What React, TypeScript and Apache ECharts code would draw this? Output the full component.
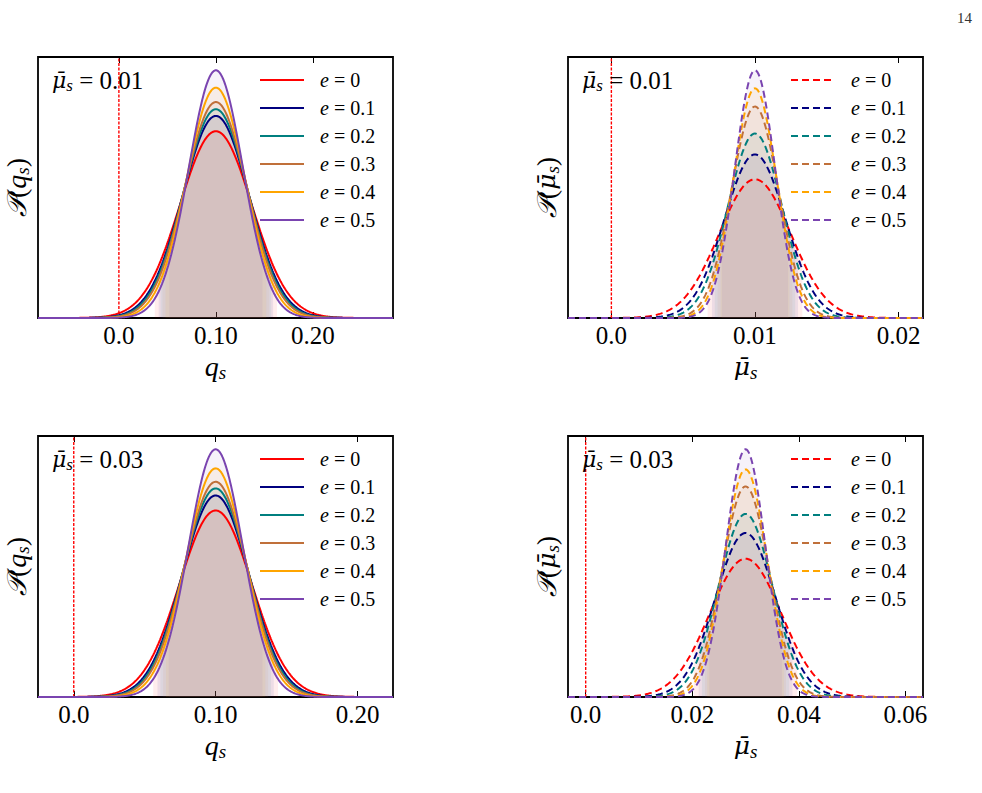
import { useEffect, useRef } from "react";
import * as echarts from "echarts";

const SERIF = "Liberation Serif";
const MATHSERIF = "DejaVu Serif";

// Eccentricity levels shared by every panel
const eccentricities = ["0", "0.1", "0.2", "0.3", "0.4", "0.5"];
const lineColors = ["#ff0000", "#00007f", "#007f7f", "#c0703a", "#ffa500", "#7a44b0"];

// Posterior of q_s for injected mu_s = 0.01
const qsLowMean = 0.1;
const qsLowSigma = [0.037, 0.0342, 0.0331, 0.032, 0.03, 0.0279];
const qsLowHalfWidth = [0.063, 0.059, 0.057, 0.055, 0.052, 0.048];
const qsLowRange = [-0.0834, 0.2826];
const qsLowTicks = [0, 0.1, 0.2];
const qsLowTickLabels = ["0.0", "0.10", "0.20"];

// Posterior of mu_s for injected mu_s = 0.01
const muLowMean = 0.01;
const muLowSigma = [0.0025, 0.00212, 0.00188, 0.00164, 0.00151, 0.0014];
const muLowHalfWidth = [0.0033, 0.003, 0.0028, 0.0026, 0.0024, 0.0023];
const muLowRange = [-0.00302, 0.0217];
const muLowTicks = [0, 0.01, 0.02];
const muLowTickLabels = ["0.0", "0.01", "0.02"];

// Posterior of q_s for injected mu_s = 0.03
const qsHighMean = 0.1;
const qsHighSigma = [0.0255, 0.0236, 0.0228, 0.0221, 0.0208, 0.0192];
const qsHighHalfWidth = [0.044, 0.041, 0.039, 0.037, 0.035, 0.033];
const qsHighRange = [-0.0252, 0.225];
const qsHighTicks = [0, 0.1, 0.2];
const qsHighTickLabels = ["0.0", "0.10", "0.20"];

// Posterior of mu_s for injected mu_s = 0.03
const muHighMean = 0.03;
const muHighSigma = [0.0067, 0.00565, 0.00506, 0.0044, 0.00407, 0.00374];
const muHighHalfWidth = [0.0097, 0.0088, 0.0082, 0.0076, 0.0072, 0.0068];
const muHighRange = [-0.00332, 0.0633];
const muHighTicks = [0, 0.02, 0.04, 0.06];
const muHighTickLabels = ["0.0", "0.02", "0.04", "0.06"];

const injectedMu = ["0.01", "0.01", "0.03", "0.03"];
// the zero line drawn in every panel
const referenceX = 0;

const MU_BAR = "\u03bc\u0304";

function gaussian(x: number, m: number, s: number) {
  return Math.exp(-((x - m) * (x - m)) / (2 * s * s)) / (s * Math.sqrt(2 * Math.PI));
}

function sampleCurve(lo: number, hi: number, m: number, s: number, n = 480) {
  const pts: number[][] = [];
  for (let i = 0; i <= n; i++) {
    const x = lo + ((hi - lo) * i) / n;
    pts.push([x, gaussian(x, m, s)]);
  }
  return pts;
}

type Panel = {
  key: string;
  grid: { left: number; top: number; width: number; height: number };
  range: number[];
  ticks: number[];
  tickLabels: string[];
  mean: number;
  sigma: number[];
  halfWidth: number[];
  dashed: boolean;
  variable: "q" | "mu";
  injected: string;
  legendPos: { left: number; top: number };
};

const panels: Panel[] = [
  {
    key: "a",
    grid: { left: 38, top: 57, width: 355, height: 261 },
    range: qsLowRange, ticks: qsLowTicks, tickLabels: qsLowTickLabels,
    mean: qsLowMean, sigma: qsLowSigma, halfWidth: qsLowHalfWidth,
    dashed: false, variable: "q", injected: injectedMu[0],
    legendPos: { left: 259, top: 70 },
  },
  {
    key: "b",
    grid: { left: 568, top: 57, width: 355, height: 261 },
    range: muLowRange, ticks: muLowTicks, tickLabels: muLowTickLabels,
    mean: muLowMean, sigma: muLowSigma, halfWidth: muLowHalfWidth,
    dashed: true, variable: "mu", injected: injectedMu[1],
    legendPos: { left: 790, top: 70 },
  },
  {
    key: "c",
    grid: { left: 38, top: 436, width: 355, height: 261 },
    range: qsHighRange, ticks: qsHighTicks, tickLabels: qsHighTickLabels,
    mean: qsHighMean, sigma: qsHighSigma, halfWidth: qsHighHalfWidth,
    dashed: false, variable: "q", injected: injectedMu[2],
    legendPos: { left: 259, top: 449 },
  },
  {
    key: "d",
    grid: { left: 568, top: 436, width: 355, height: 261 },
    range: muHighRange, ticks: muHighTicks, tickLabels: muHighTickLabels,
    mean: muHighMean, sigma: muHighSigma, halfWidth: muHighHalfWidth,
    dashed: true, variable: "mu", injected: injectedMu[3],
    legendPos: { left: 790, top: 449 },
  },
];

const nameRich = {
  i: { fontFamily: SERIF, fontStyle: "italic", fontSize: 28, color: "#000" },
  m: { fontFamily: MATHSERIF, fontStyle: "italic", fontSize: 25, color: "#000" },
  r: { fontFamily: SERIF, fontSize: 28, color: "#000" },
  p: { fontFamily: MATHSERIF, fontStyle: "italic", fontSize: 27, color: "#000" },
  sub: { fontFamily: SERIF, fontStyle: "italic", fontSize: 19, color: "#000", padding: [12, 0, 0, 0] },
};

function buildOption() {
  const grid: any[] = [];
  const xAxis: any[] = [];
  const yAxis: any[] = [];
  const series: any[] = [];
  const legend: any[] = [];
  const graphic: any[] = [];

  panels.forEach((p, gi) => {
    grid.push({
      ...p.grid,
      show: true,
      borderColor: "#000",
      borderWidth: 1.8,
      backgroundColor: "transparent",
    });

    const varText = p.variable === "q" ? "{i|q}{sub|s}" : `{m|${MU_BAR}}{sub|s}`;

    xAxis.push({
      type: "value",
      gridIndex: gi,
      min: p.range[0],
      max: p.range[1],
      position: "bottom",
      axisLine: { show: false, onZero: false },
      splitLine: { show: false },
      axisTick: {
        show: true,
        inside: true,
        length: 6,
        customValues: p.ticks,
        lineStyle: { color: "#000", width: 1 },
      },
      axisLabel: {
        show: true,
        customValues: p.ticks,
        margin: 5,
        color: "#000",
        fontFamily: SERIF,
        fontSize: 25,
        formatter: (v: number) => {
          const idx = p.ticks.findIndex((t) => Math.abs(t - v) < 1e-9);
          return idx >= 0 ? `{n|${p.tickLabels[idx]}}` : "";
        },
        rich: { n: { fontFamily: SERIF, fontSize: 25, color: "#000" } },
      },
      name: varText,
      nameLocation: "middle",
      nameGap: 33,
      nameTextStyle: { fontFamily: SERIF, rich: nameRich },
    });
    xAxis.push({
      type: "value",
      gridIndex: gi,
      min: p.range[0],
      max: p.range[1],
      position: "top",
      axisLine: { show: false, onZero: false },
      splitLine: { show: false },
      axisLabel: { show: false },
      axisTick: {
        show: true,
        inside: true,
        length: 6,
        customValues: p.ticks,
        lineStyle: { color: "#000", width: 1 },
      },
    });

    const peak = gaussian(p.mean, p.mean, Math.min(...p.sigma));
    const yMax = peak / 0.949;
    yAxis.push({
      type: "value",
      gridIndex: gi,
      min: 0,
      max: yMax,
      axisLine: { show: false, onZero: false },
      axisTick: { show: false },
      axisLabel: { show: false },
      splitLine: { show: false },
      name: `{p|\u{1D4AB}}{r|(}${varText}{r|)}`,
      nameLocation: "middle",
      nameRotate: 90,
      nameGap: 6,
      nameTextStyle: { fontFamily: SERIF, rich: nameRich },
    });

    // vertical reference line at zero
    series.push({
      type: "line",
      name: `${p.key}:zero`,
      xAxisIndex: gi * 2,
      yAxisIndex: gi,
      data: [
        [referenceX, 0],
        [referenceX, yMax],
      ],
      symbol: "none",
      silent: true,
      lineStyle: { color: "#ff0000", type: [3, 1.5], width: 1.4 },
      z: 2,
    });

    const names: string[] = [];
    eccentricities.forEach((e, k) => {
      const name = `${p.key}:${e}`;
      names.push(name);
      const m = p.mean;
      const s = p.sigma[k];
      // shaded credible band under each curve
      series.push({
        type: "line",
        name: `${name}:band`,
        xAxisIndex: gi * 2,
        yAxisIndex: gi,
        data: sampleCurve(m - p.halfWidth[k], m + p.halfWidth[k], m, s, 160),
        symbol: "none",
        silent: true,
        lineStyle: { width: 0, opacity: 0 },
        areaStyle: { color: lineColors[k], opacity: 0.07 },
        z: 1,
      });
      series.push({
        type: "line",
        name,
        xAxisIndex: gi * 2,
        yAxisIndex: gi,
        data: sampleCurve(p.range[0], p.range[1], m, s),
        symbol: "none",
        lineStyle: {
          color: lineColors[k],
          width: 2,
          type: p.dashed ? [7, 4] : "solid",
        },
        itemStyle: { color: lineColors[k] },
        z: 3,
      });
    });

    legend.push({
      data: names,
      orient: "vertical",
      left: p.legendPos.left,
      top: p.legendPos.top,
      padding: 0,
      itemWidth: 44,
      itemHeight: 14,
      itemGap: 8,
      selectedMode: false,
      itemStyle: { color: "rgba(0,0,0,0)", borderColor: "rgba(0,0,0,0)", borderWidth: 0, opacity: 0 },
      formatter: (n: string) => `{i|e}{t| = ${n.split(":")[1]}}`,
      textStyle: {
        fontFamily: SERIF,
        fontSize: 19,
        lineHeight: 20,
        color: "#000",
        padding: [0, 0, 0, 11],
        rich: {
          i: { fontFamily: SERIF, fontStyle: "italic", fontSize: 20, color: "#000" },
          t: { fontFamily: SERIF, fontSize: 20, color: "#000" },
        },
      },
    });

    graphic.push({
      type: "text",
      left: p.grid.left + 14,
      top: p.grid.top + 11,
      style: {
        text: `{m|${MU_BAR}}{sub|s}{t| = ${p.injected}}`,
        fill: "#000",
        fontFamily: SERIF,
        fontSize: 24,
        rich: {
          m: { fontFamily: MATHSERIF, fontStyle: "italic", fontSize: 22, fill: "#000" },
          sub: { fontFamily: SERIF, fontStyle: "italic", fontSize: 17, fill: "#000", padding: [10, 0, 0, 0] },
          t: { fontFamily: SERIF, fontSize: 25, fill: "#000" },
        },
      },
      z: 10,
    });
  });

  graphic.push({
    type: "text",
    left: 957,
    top: 10,
    style: { text: "14", fill: "#333", fontFamily: SERIF, fontSize: 15 },
  });

  return {
    animation: false,
    backgroundColor: "#fff",
    textStyle: { fontFamily: SERIF, color: "#000" },
    grid,
    xAxis,
    yAxis,
    legend,
    series,
    graphic,
  };
}

export default function App() {
  const ref = useRef<HTMLDivElement>(null);
  useEffect(() => {
    if (!ref.current) return;
    const chart = echarts.init(ref.current, undefined, { renderer: "svg" });
    chart.setOption(buildOption() as any);
    return () => chart.dispose();
  }, []);
  return (
    <div
      ref={ref}
      style={{ position: "absolute", left: 0, top: 0, width: 982, height: 793 }}
    />
  );
}
